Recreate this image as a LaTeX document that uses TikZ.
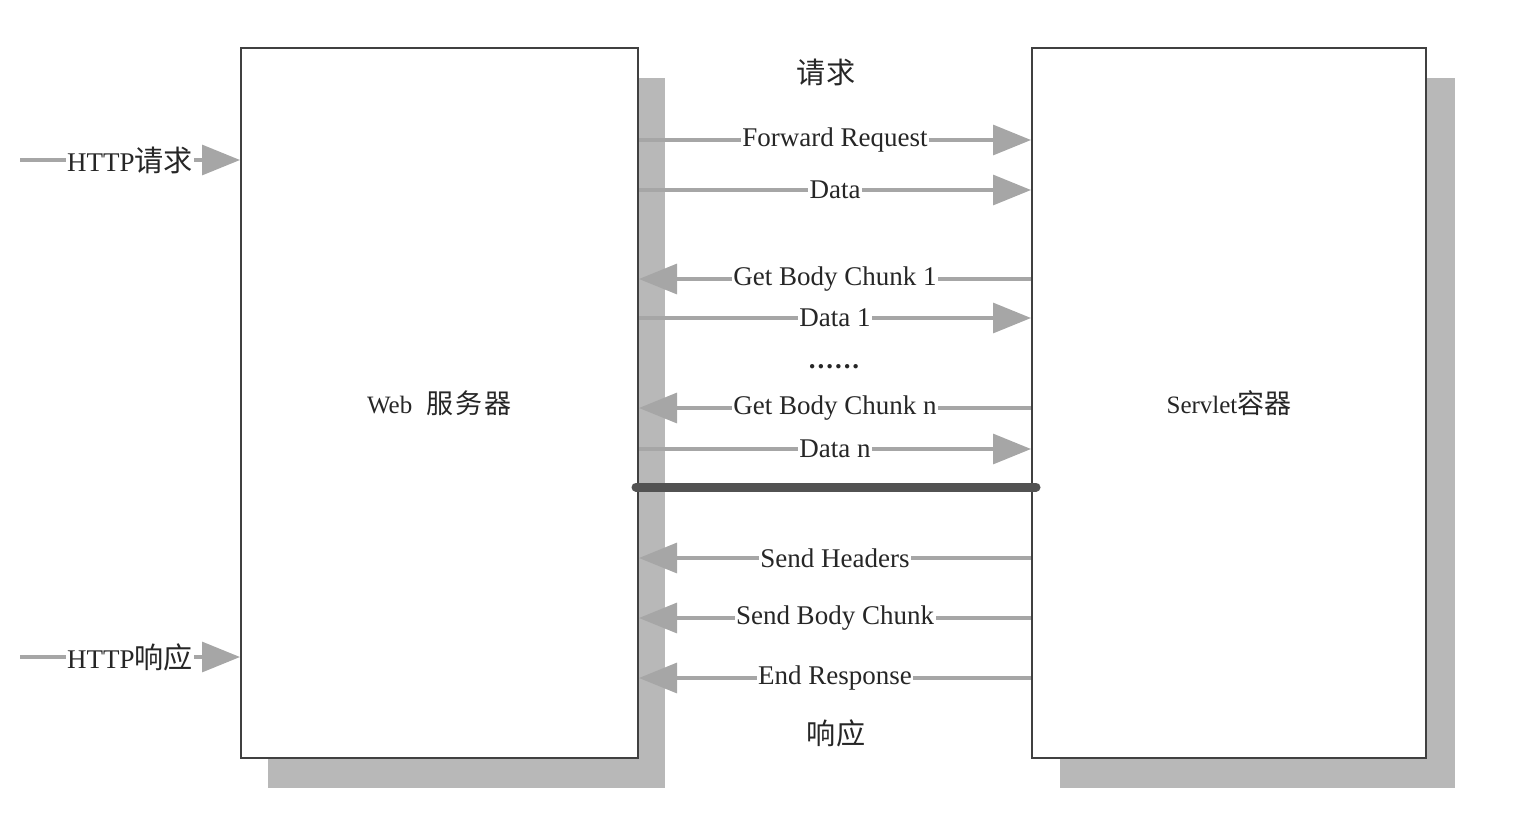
\documentclass[tikz,border=0pt]{standalone}
\usepackage{fontspec}
\setmainfont{Liberation Serif}
\newfontfamily\cjk[Scale=1.08]{Noto Sans CJK SC}
\usetikzlibrary{arrows.meta}
\tikzset{
  shadowc/.style={fill=black!28},
  box/.style={draw=black!75, line width=1.1pt, fill=white, inner sep=0pt, font=\fontsize{25}{30}\selectfont, text=black!85},
  msg/.style={draw=black!35, line width=3.2pt, -{Triangle[length=38pt,width=30pt,fill=black!35]}},
  lbl/.style={fill=white, inner sep=1.5pt, text=black!85, font=\fontsize{27}{32}\selectfont},
  plain/.style={text=black!85, font=\fontsize{27}{32}\selectfont},
  sep/.style={draw=black!68, line width=9pt, line cap=round}
}
\begin{document}
\begin{tikzpicture}[x=1pt,y=-1pt]
\useasboundingbox (0,0) rectangle (1518,812);
% shadows
\fill[shadowc] (268,78) rectangle (665,788);
\fill[shadowc] (1060,78) rectangle (1455,788);
% boxes
\node[box, minimum width=397pt, minimum height=710pt] (web) at (439.5,403) {Web\,\, {\cjk 服\kern2pt 务\kern2pt 器}};
\node[box, minimum width=394pt, minimum height=710pt] (srv) at (1229,403) {Servlet{\cjk 容器}};
% top / bottom labels
\node[plain] (req) at (826,72) {\cjk 请求};
\node[plain] (resp) at (836,733) {\cjk 响应};
\node[plain, font=\bfseries\fontsize{27}{32}\selectfont] (dots) at (834,367) {.\kern2pt.\kern2pt.\kern2pt.\kern2pt.\kern2pt.};
% coordinates
\coordinate (hin1) at (20,160);
\coordinate (hin2) at (240,160);
\coordinate (hout1) at (20,657);
\coordinate (hout2) at (240,657);
\foreach \n/\y in {a/140,b/190,c/279,d/318,e/408,f/449,g/558,h/618,i/678}{
  \coordinate (L\n) at (639,\y);
  \coordinate (R\n) at (1031,\y);
}
% HTTP arrows
\draw[msg] (hin1) -- (hin2) node[lbl, pos=0.5] {HTTP{\cjk 请求}};
\draw[msg] (hout1) -- (hout2) node[lbl, pos=0.5] {HTTP{\cjk 响应}};
% messages
\draw[msg] (La) -- (Ra) node[lbl, pos=0.5] {Forward Request};
\draw[msg] (Lb) -- (Rb) node[lbl, pos=0.5] {Data};
\draw[msg] (Rc) -- (Lc) node[lbl, pos=0.5] {Get Body Chunk 1};
\draw[msg] (Ld) -- (Rd) node[lbl, pos=0.5] {Data 1};
\draw[msg] (Re) -- (Le) node[lbl, pos=0.5] {Get Body Chunk n};
\draw[msg] (Lf) -- (Rf) node[lbl, pos=0.5] {Data n};
\draw[msg] (Rg) -- (Lg) node[lbl, pos=0.5] {Send Headers};
\draw[msg] (Rh) -- (Lh) node[lbl, pos=0.5] {Send Body Chunk};
\draw[msg] (Ri) -- (Li) node[lbl, pos=0.5] {End Response};
% separator
\coordinate (s1) at (636,487);
\coordinate (s2) at (1036,487);
\draw[sep] (s1) -- (s2);
\end{tikzpicture}
\end{document}
